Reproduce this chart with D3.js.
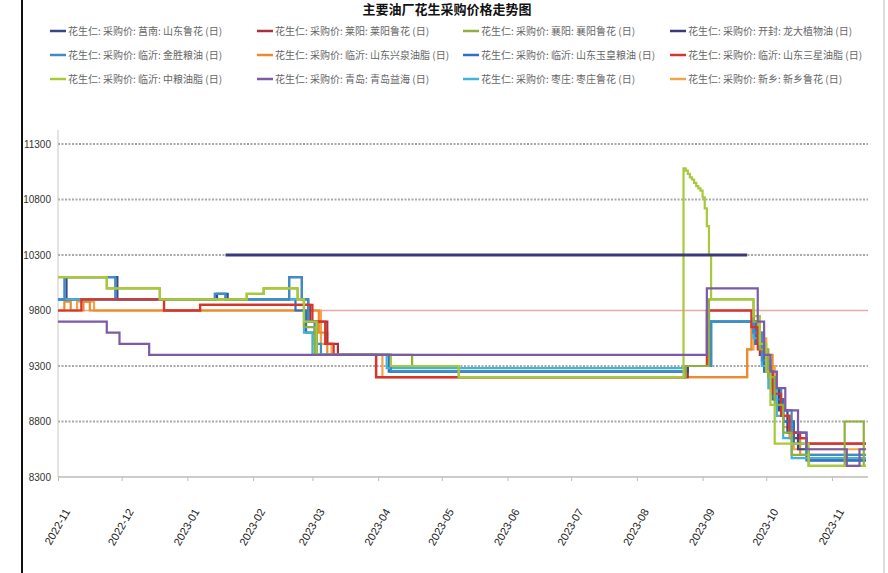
<!DOCTYPE html>
<html>
<head>
<meta charset="utf-8">
<script src="https://cdn.jsdelivr.net/npm/d3@7"></script>
<style>
body { margin: 0; background: #fff; }
svg { display: block; font-family: "Liberation Sans", "Noto Sans CJK SC", sans-serif; }
</style>
</head>
<body>
<script>
const width = 888, height = 573
const plot = {left: 58, right: 868, top: 144, bottom: 477}

const title = "主要油厂花生采购价格走势图"
const yTicks = [8300, 8800, 9300, 9800, 10300, 10800, 11300]

const names = [
    "花生仁: 采购价: 莒南: 山东鲁花 (日)",
    "花生仁: 采购价: 莱阳: 莱阳鲁花 (日)",
    "花生仁: 采购价: 襄阳: 襄阳鲁花 (日)",
    "花生仁: 采购价: 开封: 龙大植物油 (日)",
    "花生仁: 采购价: 临沂: 金胜粮油 (日)",
    "花生仁: 采购价: 临沂: 山东兴泉油脂 (日)",
    "花生仁: 采购价: 临沂: 山东玉皇粮油 (日)",
    "花生仁: 采购价: 临沂: 山东三星油脂 (日)",
    "花生仁: 采购价: 临沂: 中粮油脂 (日)",
    "花生仁: 采购价: 青岛: 青岛益海 (日)",
    "花生仁: 采购价: 枣庄: 枣庄鲁花 (日)",
    "花生仁: 采购价: 新乡: 新乡鲁花 (日)"
]
const colors = ["#34488a", "#a8323c", "#8fb040", "#3d3878", "#3f8cc8", "#ee8a2c",
                "#2f6fc4", "#d8342c", "#a9c93a", "#7b5aa6", "#43b4d6", "#f4a24c"]

// price points, each value holds until the next date
const s1 = [["2022-11-01",9900],["2022-11-05",10100],["2022-11-29",9900],["2023-01-15",9950],["2023-01-20",9900],
    ["2023-02-18",10100],["2023-02-24",9900],["2023-02-27",9700],["2023-03-03",9400],["2023-04-07",9250],
    ["2023-08-25",9300],["2023-09-04",9700],["2023-09-26",9500],["2023-09-29",9300],["2023-10-03",9100],
    ["2023-10-07",8900],["2023-10-11",8700],["2023-10-16",8550],["2023-10-21",8450],["2023-11-17",8450]]
const s2 = [["2022-11-01",9900],["2022-12-21",9800],["2023-01-07",9850],["2023-02-28",9700],["2023-03-08",9500],
    ["2023-03-13",9400],["2023-03-31",9200],["2023-08-25",9300],["2023-09-04",9800],["2023-09-25",9600],
    ["2023-09-28",9400],["2023-10-02",9200],["2023-10-05",9000],["2023-10-09",8800],["2023-10-14",8650],
    ["2023-10-20",8600],["2023-11-17",8600]]
const s3 = [["2022-11-01",10100],["2022-11-24",10000],["2022-12-19",9900],["2023-01-29",9950],["2023-02-06",10000],
    ["2023-02-22",9900],["2023-02-25",9650],["2023-03-02",9400],["2023-04-17",9300],["2023-05-09",9200],
    ["2023-08-24",9300],["2023-09-04",9900],["2023-09-25",9700],["2023-09-28",9450],["2023-10-02",9200],
    ["2023-10-05",8950],["2023-10-09",8700],["2023-10-13",8500],["2023-10-21",8400],["2023-11-07",8800],
    ["2023-11-16",8400],["2023-11-17",8400]]
const s4 = [["2023-01-19",10300],["2023-09-22",10300]]
const s5 = [["2022-11-01",9900],["2022-11-04",10100],["2022-11-28",9900],["2023-01-14",9950],["2023-01-19",9900],
    ["2023-02-18",10100],["2023-02-24",9900],["2023-02-27",9700],["2023-03-02",9500],["2023-03-05",9400],
    ["2023-04-07",9250],["2023-08-24",9300],["2023-09-05",9700],["2023-09-25",9600],["2023-09-29",9350],
    ["2023-10-03",9100],["2023-10-08",8900],["2023-10-13",8700],["2023-10-20",8500],["2023-11-17",8500]]
const s6 = [["2022-11-01",9800],["2022-11-04",9880],["2022-11-07",9800],["2022-11-13",9880],["2022-11-16",9800],
    ["2023-03-04",9600],["2023-03-08",9400],["2023-03-31",9200],["2023-09-22",9450],["2023-09-24",9700],
    ["2023-09-27",9600],["2023-09-30",9400],["2023-10-04",9100],["2023-10-08",8850],["2023-10-12",8650],
    ["2023-10-17",8500],["2023-11-17",8500]]
const s7 = [["2022-11-01",9900],["2023-01-14",9950],["2023-01-19",9900],["2023-02-21",9800],["2023-02-26",9600],
    ["2023-03-03",9400],["2023-04-06",9250],["2023-08-24",9300],["2023-09-05",9700],["2023-09-26",9500],
    ["2023-09-30",9250],["2023-10-04",9000],["2023-10-09",8800],["2023-10-14",8600],["2023-10-20",8450],
    ["2023-11-17",8450]]
const s8 = [["2022-11-01",9800],["2022-11-12",9900],["2022-12-21",9800],["2023-01-07",9850],["2023-03-01",9700],
    ["2023-03-07",9500],["2023-03-11",9400],["2023-03-31",9200],["2023-08-24",9300],["2023-09-03",9800],
    ["2023-09-24",9650],["2023-09-27",9450],["2023-10-01",9250],["2023-10-04",9050],["2023-10-08",8850],
    ["2023-10-12",8700],["2023-10-17",8650],["2023-10-20",8600],["2023-11-17",8600]]
const s9 = [["2022-11-01",10100],["2022-11-24",10000],["2022-12-19",9900],["2023-01-29",9950],["2023-02-06",10000],
    ["2023-02-22",9900],["2023-02-25",9700],["2023-03-03",9400],["2023-04-07",9300],["2023-05-09",9200],
    ["2023-08-23",11080],["2023-08-24",11060],["2023-08-25",11030],["2023-08-26",11000],["2023-08-27",10980],
    ["2023-08-28",10950],["2023-08-29",10920],["2023-08-30",10900],["2023-08-31",10880],["2023-09-01",10820],
    ["2023-09-02",10720],["2023-09-03",10560],["2023-09-04",10300],["2023-09-05",9900],["2023-09-25",9750],
    ["2023-09-28",9500],["2023-10-01",9250],["2023-10-03",8950],["2023-10-05",8600],["2023-10-21",8400],
    ["2023-11-17",8400]]
const s10 = [["2022-11-01",9700],["2022-11-24",9600],["2022-11-30",9500],["2022-12-14",9400],["2023-09-03",10000],
    ["2023-09-27",9700],["2023-09-30",9400],["2023-10-03",9250],["2023-10-06",9100],["2023-10-10",8900],
    ["2023-10-16",8700],["2023-10-20",8550],["2023-11-08",8400],["2023-11-14",8550],["2023-11-17",8550]]
const s11 = [["2022-11-01",9900],["2023-02-22",9900],["2023-02-25",9600],["2023-03-01",9400],["2023-04-05",9280],
    ["2023-08-24",9300],["2023-09-05",9700],["2023-09-25",9550],["2023-09-29",9300],["2023-10-02",9100],
    ["2023-10-06",8850],["2023-10-09",8650],["2023-10-13",8470],["2023-11-17",8470]]
const s12 = [["2022-11-01",9800],["2022-11-10",9880],["2022-11-18",9800],["2023-03-05",9500],["2023-03-10",9400],
    ["2023-04-03",9200],["2023-09-22",9450],["2023-09-25",9700],["2023-09-28",9550],["2023-10-01",9300],
    ["2023-10-05",9000],["2023-10-09",8750],["2023-10-14",8550],["2023-11-17",8550]]

const seriesData = [s1, s2, s3, s4, s5, s6, s7, s8, s9, s10, s11, s12]
// which series sit on top of which
const drawOrder = [11, 5, 1, 0, 6, 10, 4, 7, 2, 8, 9, 3]

const parse = d3.timeParse("%Y-%m-%d")

const svg = d3.select("body").append("svg")
    .attr("width", width)
    .attr("height", height)

// frame
svg.append("line").attr("x1", 22).attr("x2", 22).attr("y1", 0).attr("y2", height)
    .attr("stroke", "#111").attr("stroke-width", 2)
svg.append("line").attr("x1", 884).attr("x2", 884).attr("y1", 0).attr("y2", height)
    .attr("stroke", "#bbb").attr("stroke-width", 1)

svg.append("text")
    .attr("x", 447).attr("y", 14)
    .attr("text-anchor", "middle")
    .attr("font-family", "Noto Sans CJK SC")
    .attr("font-size", 13).attr("font-weight", "bold")
    .attr("fill", "#111")
    .text(title)

const x = d3.scaleTime()
    .domain([parse("2022-11-01"), parse("2023-11-18")])
    .range([plot.left, plot.right])
const y = d3.scaleLinear()
    .domain([8300, 11300])
    .range([plot.bottom, plot.top])

// gridlines
svg.append("g").selectAll("line").data(yTicks.slice(1)).enter()
    .append("line")
    .attr("x1", plot.left).attr("x2", plot.right)
    .attr("y1", d => y(d)).attr("y2", d => y(d))
    .attr("stroke", d => d === 9800 ? "#e8aaa8" : "#a8a8a8")
    .attr("stroke-width", d => d === 9800 ? 1.6 : 2)
    .attr("stroke-dasharray", d => d === 9800 ? null : "2,1.5")

// y axis
const yAxis = svg.append("g")
    .attr("transform", `translate(${plot.left},0)`)
    .call(d3.axisLeft(y).tickValues(yTicks).tickSize(0).tickPadding(7).tickFormat(d3.format("d")))
yAxis.select(".domain").attr("stroke", "#c8c8c8").attr("d", `M0,${plot.top - 14}V${plot.bottom}`)
yAxis.selectAll("text").attr("font-size", 10).attr("fill", "#333")

// x axis
const xAxis = svg.append("g")
    .attr("transform", `translate(0,${plot.bottom})`)
    .call(d3.axisBottom(x).ticks(d3.timeMonth.every(1)).tickFormat(d3.timeFormat("%Y-%m")).tickSize(4))
xAxis.select(".domain").attr("stroke", "#999").attr("d", `M${plot.left},0H${plot.right}`)
xAxis.selectAll(".tick line").attr("stroke", "#bbb")
xAxis.selectAll("text")
    .attr("font-size", 11)
    .attr("fill", "#222")
    .attr("text-anchor", "end")
    .attr("dx", 0).attr("dy", 0)
    .attr("transform", "translate(6,31) rotate(-60)")

// series
const line = d3.line()
    .x(d => x(parse(d[0])))
    .y(d => y(d[1]))
    .curve(d3.curveStepAfter)

svg.append("g").selectAll("path").data(drawOrder).enter()
    .append("path")
    .attr("fill", "none")
    .attr("stroke", i => colors[i])
    .attr("stroke-width", i => i === 3 ? 3 : 2.2)
    .attr("d", i => line(seriesData[i]))

// legend
const colX = [50, 257, 463, 670], rowY = [31, 55, 79]
const legend = svg.append("g").selectAll("g").data(names).enter()
    .append("g")
    .attr("transform", (d, i) => `translate(${colX[i % 4]},${rowY[Math.floor(i / 4)]})`)
legend.append("line")
    .attr("x1", 0).attr("x2", 16)
    .attr("stroke", (d, i) => colors[i])
    .attr("stroke-width", 2.5)
legend.append("text")
    .attr("x", 18).attr("dy", "0.35em")
    .attr("font-family", "Noto Sans CJK SC")
    .attr("font-size", 10)
    .attr("fill", "#666")
    .text(d => d)
</script>
</body>
</html>
